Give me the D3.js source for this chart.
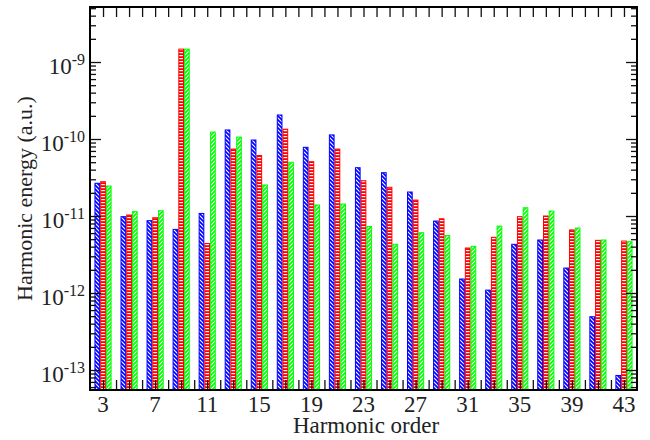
<!DOCTYPE html>
<html>
<head>
<meta charset="utf-8">
<script src="https://cdn.jsdelivr.net/npm/d3@7"></script>
<style>
  body { margin: 0; background: #fff; }
  text { font-family: "Liberation Serif", "Times New Roman", serif; fill: #222; }
</style>
</head>
<body>
<script>
// harmonic orders and energies (a.u.)
var harmonics = [3, 5, 7, 9, 11, 13, 15, 17, 19, 21, 23, 25, 27, 29, 31, 33, 35, 37, 39, 41, 43];
var blueVals = [2.66e-11, 9.8e-12, 8.7e-12, 6.7e-12, 1.08e-11, 1.31e-10, 9.7e-11, 2.05e-10, 7.8e-11, 1.13e-10, 4.24e-11,
                3.65e-11, 2.05e-11, 8.6e-12, 1.52e-12, 1.09e-12, 4.29e-12, 4.88e-12, 2.11e-12, 4.92e-13, 8.5e-14];
var redVals = [2.79e-11, 1.03e-11, 9.5e-12, 1.47e-9, 4.4e-12, 7.4e-11, 6.1e-11, 1.34e-10, 5.07e-11, 7.4e-11, 2.87e-11,
               2.36e-11, 1.61e-11, 9.2e-12, 3.84e-12, 5.29e-12, 9.8e-12, 1.0e-11, 6.6e-12, 4.83e-12, 4.73e-12];
var greenVals = [2.45e-11, 1.14e-11, 1.17e-11, 1.47e-9, 1.23e-10, 1.06e-10, 2.53e-11, 4.98e-11, 1.39e-11, 1.43e-11, 7.3e-12,
                 4.29e-12, 6.07e-12, 5.58e-12, 4.04e-12, 7.4e-12, 1.28e-11, 1.16e-11, 6.98e-12, 4.88e-12, 4.64e-12];
var xLabels = [3, 7, 11, 15, 19, 23, 27, 31, 35, 39, 43];
var yDecades = [-13, -12, -11, -10, -9];

var pLeft = 90, pRight = 637, pTop = 7, pBottom = 390;

var svg = d3.select("body").append("svg").attr("width", 650).attr("height", 440);
svg.append("rect").attr("width", 650).attr("height", 440).attr("fill", "#fff");

var x = d3.scaleLinear().domain([2, 44]).range([pLeft, pRight]);
var y = d3.scaleLog().domain([5.5e-14, 5.18e-9]).range([pBottom, pTop]);

var defs = svg.append("defs");
var pb = defs.append("pattern").attr("id", "patBlue").attr("patternUnits", "userSpaceOnUse")
    .attr("width", 4).attr("height", 4);
pb.append("rect").attr("width", 4).attr("height", 4).attr("fill", "#0000ff");
pb.append("path").attr("d", "M0,0L4,4M-1,3L1,5M3,-1L5,1").attr("stroke", "#fff").attr("stroke-width", 1.1);

var pr = defs.append("pattern").attr("id", "patRed").attr("patternUnits", "userSpaceOnUse")
    .attr("width", 4).attr("height", 3);
pr.append("rect").attr("width", 4).attr("height", 3).attr("fill", "#ff0000");
pr.append("rect").attr("y", 1).attr("width", 4).attr("height", 1.2).attr("fill", "#fff");

var pg = defs.append("pattern").attr("id", "patGreen").attr("patternUnits", "userSpaceOnUse")
    .attr("width", 4).attr("height", 4);
pg.append("rect").attr("width", 4).attr("height", 4).attr("fill", "#00ff00");
pg.append("path").attr("d", "M0,4L4,0M-1,1L1,-1M3,5L5,3").attr("stroke", "#fff").attr("stroke-width", 1.1);

defs.append("clipPath").attr("id", "plotClip").append("rect")
    .attr("x", pLeft).attr("y", pTop).attr("width", pRight - pLeft).attr("height", pBottom - pTop);

var series = [
  {vals: blueVals, color: "#0000ff", pat: "url(#patBlue)", off: -0.44},
  {vals: redVals, color: "#ff0000", pat: "url(#patRed)", off: 0},
  {vals: greenVals, color: "#00ff00", pat: "url(#patGreen)", off: 0.44}
];
var bw = 0.36;

var barsG = svg.append("g").attr("clip-path", "url(#plotClip)");
series.forEach(function(s) {
  barsG.append("g").selectAll("rect")
    .data(harmonics)
    .enter().append("rect")
    .attr("x", function(h) { return x(h + s.off - bw / 2); })
    .attr("width", x(bw) - x(0))
    .attr("y", function(h, i) { return y(s.vals[i]); })
    .attr("height", function(h, i) { return pBottom + 2 - y(s.vals[i]); })
    .attr("fill", s.pat)
    .attr("stroke", s.color)
    .attr("stroke-width", 1);
});

// ticks
var intTicks = d3.range(3, 44);
var minorY = [];
for (var e = -14; e <= -9; e++) {
  for (var k = 2; k <= 9; k++) {
    var v = k * Math.pow(10, e);
    if (v > y.domain()[0] && v < y.domain()[1]) minorY.push(v);
  }
}
var majorY = yDecades.map(function(d) { return Math.pow(10, d); });

svg.append("g").attr("transform", "translate(0," + pBottom + ")")
  .call(d3.axisBottom(x).tickValues(intTicks).tickSizeInner(-10).tickSizeOuter(0).tickFormat(""));
svg.append("g").attr("transform", "translate(0," + pTop + ")")
  .call(d3.axisTop(x).tickValues(intTicks).tickSizeInner(-10).tickSizeOuter(0).tickFormat(""));
svg.append("g").attr("transform", "translate(" + pLeft + ",0)")
  .call(d3.axisLeft(y).tickValues(majorY).tickSizeInner(-11).tickSizeOuter(0).tickFormat(""));
svg.append("g").attr("transform", "translate(" + pLeft + ",0)")
  .call(d3.axisLeft(y).tickValues(minorY).tickSizeInner(-6).tickSizeOuter(0).tickFormat(""));
svg.append("g").attr("transform", "translate(" + pRight + ",0)")
  .call(d3.axisRight(y).tickValues(majorY).tickSizeInner(-11).tickSizeOuter(0).tickFormat(""));
svg.append("g").attr("transform", "translate(" + pRight + ",0)")
  .call(d3.axisRight(y).tickValues(minorY).tickSizeInner(-6).tickSizeOuter(0).tickFormat(""));
svg.selectAll(".domain").remove();
svg.selectAll(".tick line").attr("stroke", "#111").attr("stroke-width", 1.3);

svg.append("rect").attr("x", pLeft).attr("y", pTop).attr("width", pRight - pLeft).attr("height", pBottom - pTop)
  .attr("fill", "none").attr("stroke", "#000").attr("stroke-width", 2);

// tick labels
svg.append("g").selectAll("text").data(xLabels).enter().append("text")
  .attr("x", function(d) { return x(d); })
  .attr("y", 412)
  .attr("text-anchor", "middle")
  .attr("font-size", 23)
  .text(function(d) { return d; });

var yl = svg.append("g").selectAll("text").data(yDecades).enter().append("text")
  .attr("x", 85)
  .attr("y", function(d) { return y(Math.pow(10, d)) + 11.5; })
  .attr("text-anchor", "end")
  .attr("font-size", 23);
yl.append("tspan").text("10");
yl.append("tspan").attr("dy", -9).attr("font-size", 16).text(function(d) { return d; });

// axis titles
svg.append("text").attr("x", 366).attr("y", 433).attr("text-anchor", "middle")
  .attr("font-size", 23).text("Harmonic order");
svg.append("text").attr("transform", "translate(32," + ((pTop + pBottom) / 2) + ") rotate(-90)")
  .attr("text-anchor", "middle").attr("font-size", 22).text("Harmonic energy (a.u.)");
</script>
</body>
</html>
